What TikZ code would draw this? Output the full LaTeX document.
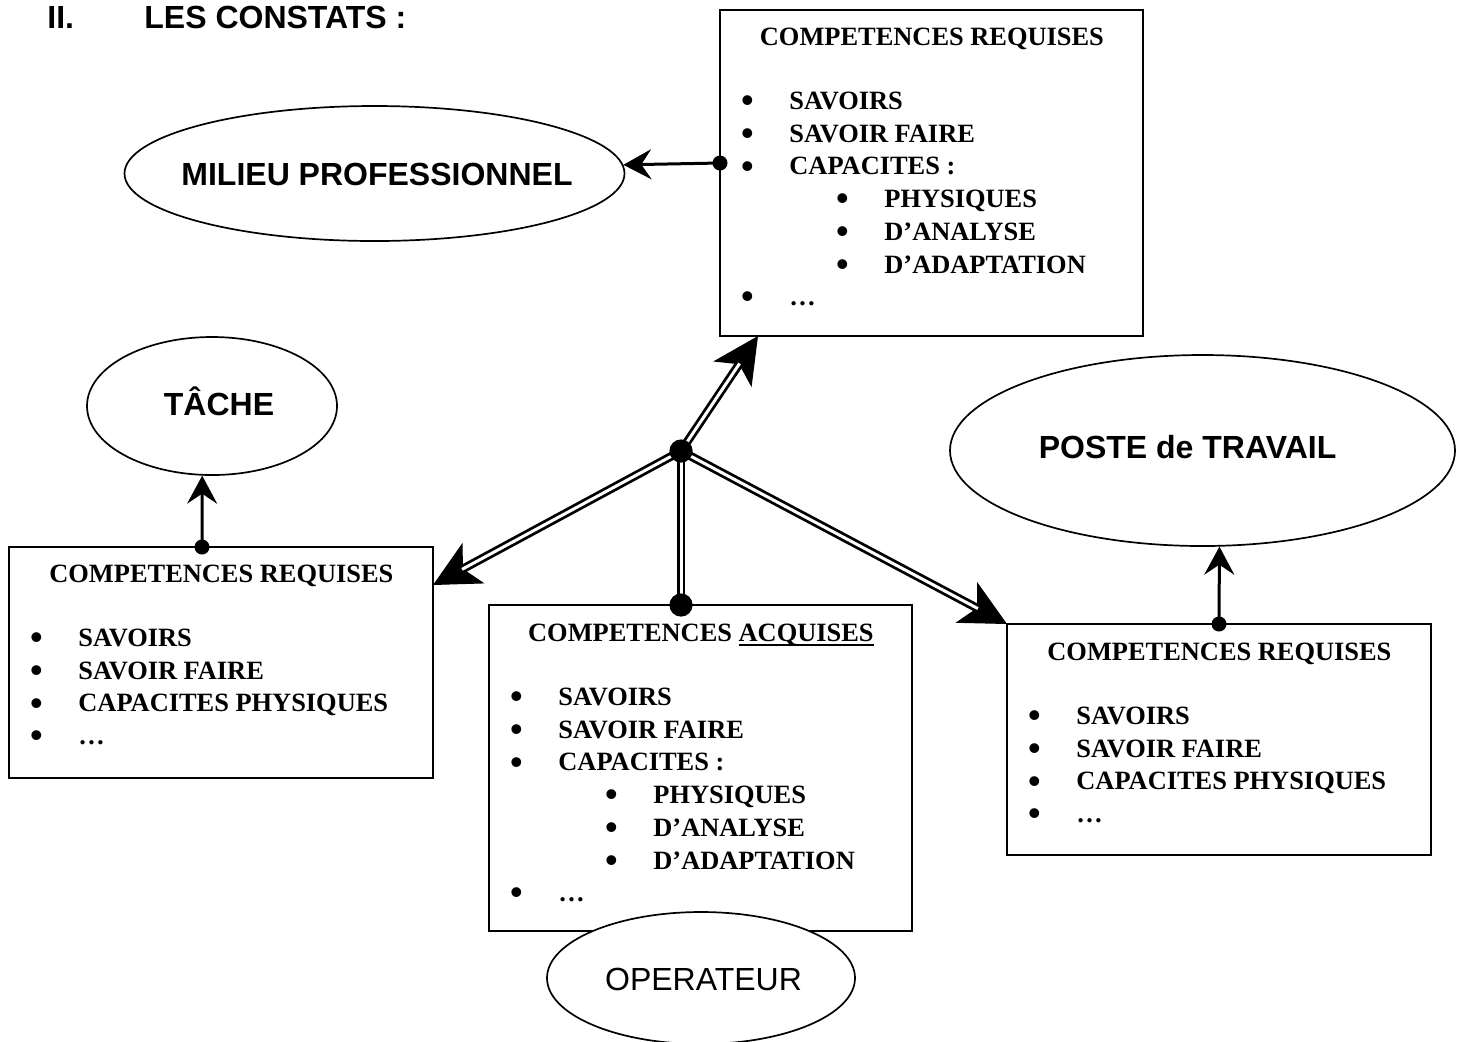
\documentclass[tikz,border=0pt]{standalone}
\usepackage{fontspec}
\setmainfont{Liberation Serif}
\newfontfamily\arialfont{Liberation Sans}
\usetikzlibrary{arrows.meta,shapes.geometric}
\pgfdeclarelayer{front}
\pgfsetlayers{main,front}

% list lines inside the competence boxes
\newcommand\listbullet{\makebox[0pt][c]{\raisebox{-1.6pt}{\fontsize{18}{18}\selectfont •}}}
\newcommand\boxhead[1]{\makebox[\linewidth][c]{#1}\par\vskip15.65pt}
\newcommand\bitem[1]{\hspace*{13.5pt}\listbullet\hspace*{21pt}#1\par}
\newcommand\bsub[1]{\hspace*{61pt}\listbullet\hspace*{21pt}#1\par}
\newcommand\ulword[1]{\setbox0=\hbox{#1}\rlap{\rule[-2.2pt]{\wd0}{0.9pt}}\box0}

\begin{document}
\begin{tikzpicture}[x=0.5pt,y=-0.5pt,
  compbox/.style={draw, line width=1pt, rectangle, inner sep=0pt, outer sep=0pt,
    anchor=north west, fill=white},
  oval/.style={draw, line width=0.85pt, ellipse, inner sep=0pt, fill=white},
  ovaltext/.style={anchor=base, inner sep=0pt,
    font=\fontsize{16}{19}\selectfont\arialfont\bfseries},
  sectitle/.style={anchor=base west, inner sep=0pt,
    font=\fontsize{16}{19}\selectfont\arialfont\bfseries},
  listtext/.style={anchor=base west, inner sep=0pt,
    font=\fontsize{13.2}{16.35}\selectfont\bfseries},
  smalldot/.style={circle, fill=black, inner sep=0pt, minimum size=7.5pt},
  bigdot/.style={circle, fill=black, inner sep=0pt, minimum size=11.6pt},
  arr/.style={line width=1.5pt, -{Stealth[length=14pt,width=15pt,inset=5pt]}},
  dbl/.style={double, double distance=1.5pt, line width=1.4pt},
  dblhead/.style={line width=0.6pt, -{Stealth[length=23pt,width=23pt,inset=6pt]}}]

\useasboundingbox (0,0) rectangle (1476,1041);

% heading
\node[sectitle] (secnum) at (47,28.5) {II.};
\node[sectitle] (sechead) at (144,28.5) {LES CONSTATS :};

% competence boxes
\node[compbox, minimum width=211.5pt, minimum height=163pt] (reqT) at (720,10) {};
\node[listtext] (reqTtext) at (720,45.5) {\parbox[t]{211.5pt}{%
  \boxhead{COMPETENCES REQUISES}%
  \bitem{SAVOIRS}%
  \bitem{SAVOIR FAIRE}%
  \bitem{CAPACITES :}%
  \bsub{PHYSIQUES}%
  \bsub{D’ANALYSE}%
  \bsub{D’ADAPTATION}%
  \bitem{…}}};

\node[compbox, minimum width=212pt, minimum height=115.5pt] (reqL) at (9,547) {};
\node[listtext] (reqLtext) at (9,582.5) {\parbox[t]{212pt}{%
  \boxhead{COMPETENCES REQUISES}%
  \bitem{SAVOIRS}%
  \bitem{SAVOIR FAIRE}%
  \bitem{CAPACITES PHYSIQUES}%
  \bitem{…}}};

\node[compbox, minimum width=211.5pt, minimum height=163pt] (acq) at (489,605) {};
\node[listtext] (acqtext) at (489,641.5) {\parbox[t]{211.5pt}{%
  \boxhead{COMPETENCES \ulword{ACQUISES}}%
  \bitem{SAVOIRS}%
  \bitem{SAVOIR FAIRE}%
  \bitem{CAPACITES :}%
  \bsub{PHYSIQUES}%
  \bsub{D’ANALYSE}%
  \bsub{D’ADAPTATION}%
  \bitem{…}}};

\node[compbox, minimum width=212pt, minimum height=115.5pt] (reqR) at (1007,624) {};
\node[listtext] (reqRtext) at (1007,660.5) {\parbox[t]{212pt}{%
  \boxhead{COMPETENCES REQUISES}%
  \bitem{SAVOIRS}%
  \bitem{SAVOIR FAIRE}%
  \bitem{CAPACITES PHYSIQUES}%
  \bitem{…}}};

% ovals
\node[oval, minimum width=250pt, minimum height=67.5pt] (milieu) at (374.5,173.5) {};
\node[ovaltext] (milieutext) at (377,185.5) {MILIEU PROFESSIONNEL};
\node[oval, minimum width=125pt, minimum height=69pt] (tache) at (212,406) {};
\node[ovaltext] (tachetext) at (219,415) {TÂCHE};
\node[oval, minimum width=252.5pt, minimum height=95.5pt] (poste) at (1202.5,450.5) {};
\node[ovaltext] (postetext) at (1187.5,458.5) {POSTE de TRAVAIL};
\node[oval, minimum width=154pt, minimum height=66pt] (oper) at (701,978) {};
\node[ovaltext, font=\fontsize{16}{19}\selectfont\arialfont] (opertext) at (703.5,990) {OPERATEUR};

% junction dots
\begin{pgfonlayer}{front}
  \node[bigdot] (hub) at (681,451) {};
  \node[bigdot] (adot) at (681,605) {};
  \node[smalldot] (mdot) at (720,163) {};
  \node[smalldot] (tdot) at (202,547) {};
  \node[smalldot] (pdot) at (1219,624) {};
\end{pgfonlayer}

% arrow ends on the box edges
\coordinate (tT) at (758,336);
\coordinate (tL) at (433,585);

% single arrows towards the ovals
\draw[arr] (mdot.center) -- (milieu.2.43);
\draw[arr] (tdot.center) -- (tache.-98.27);
\draw[arr] (pdot.center) -- (poste.-80.18);

% double arrows from the hub
\draw[dblhead] (hub.center) -- (tT);
\draw[dbl, shorten >=16.5pt] (hub.center) -- (tT);
\draw[dblhead] (hub.center) -- (tL);
\draw[dbl, shorten >=16.5pt] (hub.center) -- (tL);
\draw[dblhead] (hub.center) -- (reqR.north west);
\draw[dbl, shorten >=16.5pt] (hub.center) -- (reqR.north west);
\draw[dbl] (hub.center) -- (adot.center);

\end{tikzpicture}
\end{document}
